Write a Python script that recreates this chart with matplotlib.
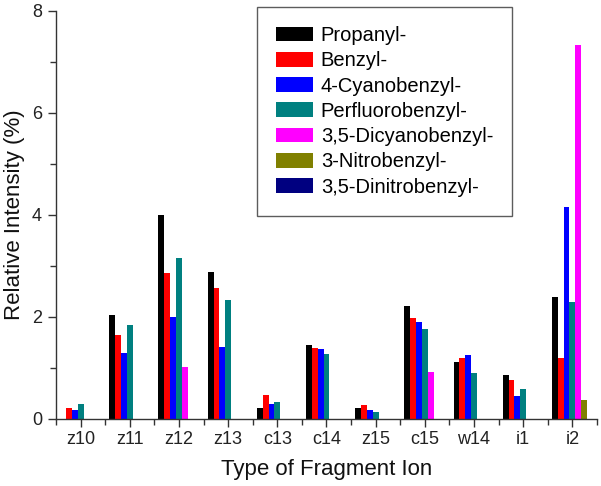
import numpy as np
import matplotlib
matplotlib.use("Agg")
import matplotlib.pyplot as plt
from matplotlib.ticker import MultipleLocator

plt.rcParams["font.family"] = ["Liberation Sans", "DejaVu Sans"]

# data
ions = ["z10", "z11", "z12", "z13", "c13", "c14", "z15", "c15", "w14", "i1", "i2"]
series = [
    "Propanyl-", "Benzyl-", "4-Cyanobenzyl-", "Perfluorobenzyl-",
    "3,5-Dicyanobenzyl-", "3-Nitrobenzyl-", "3,5-Dinitrobenzyl-",
]
propanyl = [0.0, 2.03, 4.00, 2.88, 0.21, 1.44, 0.21, 2.21, 1.11, 0.85, 2.38]
benzyl = [0.21, 1.64, 2.85, 2.56, 0.47, 1.38, 0.27, 1.97, 1.20, 0.76, 1.19]
cyanobenzyl = [0.17, 1.28, 1.99, 1.40, 0.29, 1.36, 0.18, 1.89, 1.24, 0.45, 4.15]
perfluorobenzyl = [0.28, 1.83, 3.16, 2.32, 0.32, 1.27, 0.14, 1.75, 0.89, 0.58, 2.28]
dicyanobenzyl = [0.0, 0.0, 1.01, 0.0, 0.0, 0.0, 0.0, 0.92, 0.0, 0.0, 7.34]
nitrobenzyl = [0.0, 0.0, 0.0, 0.0, 0.0, 0.0, 0.0, 0.0, 0.0, 0.0, 0.37]
dinitrobenzyl = [0.0] * 11
colors = ["#000000", "#ff0000", "#0000ff", "#008080", "#ff00ff", "#808000", "#000080"]

values = [propanyl, benzyl, cyanobenzyl, perfluorobenzyl,
          dicyanobenzyl, nitrobenzyl, dinitrobenzyl]

fig = plt.figure(figsize=(6.01, 4.86), dpi=100)
ax = fig.add_axes([0.0932, 0.1385, 0.9001, 0.839])

x = np.arange(len(ions))
width = 0.119
for i, (name, vals, col) in enumerate(zip(series, values, colors)):
    ax.bar(x + (i - 3) * width, vals, width, color=col, label=name, linewidth=0)

ax.set_xlim(-0.5, len(ions) - 0.5)
ax.set_ylim(0, 8)
ax.set_xticks(x)
ax.set_xticklabels(ions)
ax.xaxis.set_minor_locator(MultipleLocator(1, offset=0.5))
ax.yaxis.set_major_locator(MultipleLocator(2))
ax.yaxis.set_minor_locator(MultipleLocator(1))

for side in ["top", "right"]:
    ax.spines[side].set_visible(False)
for side in ["left", "bottom"]:
    ax.spines[side].set_color("#333333")
    ax.spines[side].set_linewidth(1.0)

ax.tick_params(which="major", direction="out", length=6, width=1,
               colors="#333333", labelsize=13)
ax.tick_params(which="minor", direction="out", length=4, width=1, colors="#333333")
ax.tick_params(axis="x", labelcolor="#222222", pad=3)
ax.tick_params(axis="y", labelcolor="#222222", pad=4)

ax.set_xlabel("Type of Fragment Ion", fontsize=16, color="#111111", labelpad=8)
ax.set_ylabel("Relative Intensity (%)", fontsize=16, color="#111111", labelpad=5)

leg = ax.legend(loc="upper left", bbox_to_anchor=(0.3715, 1.0098), fontsize=14.5,
                frameon=True, fancybox=False, edgecolor="#333333",
                handlelength=1.84, handleheight=0.75, handletextpad=0.38,
                labelspacing=0.31, borderpad=0.95, borderaxespad=0)
leg.get_frame().set_linewidth(1.0)

fig.savefig("out.png", dpi=100)
